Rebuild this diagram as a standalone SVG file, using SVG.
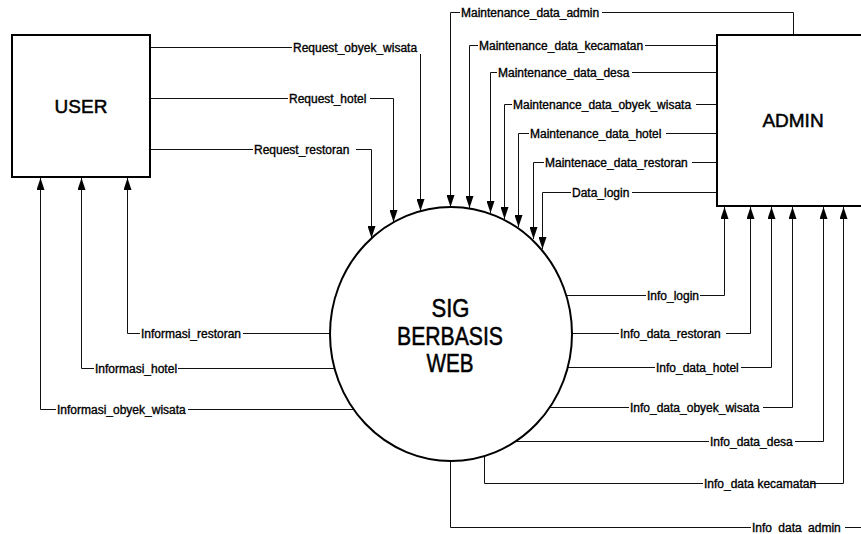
<svg xmlns="http://www.w3.org/2000/svg" width="861" height="534" viewBox="0 0 861 534">
<style>
.box{fill:#fff;stroke:#000;stroke-width:2}
.ln{fill:none;stroke:#111;stroke-width:1}
.lbl{font-family:"Liberation Sans",Arial,sans-serif;font-size:12px;fill:#000;stroke:#000;stroke-width:0.35}
.bg{fill:#fff}
.big{font-family:"Liberation Sans",Arial,sans-serif;fill:#000;stroke:#000;stroke-width:0.5;text-anchor:middle}
</style>
<defs>
<marker id="arr" markerWidth="12" markerHeight="8" refX="12" refY="4" orient="auto" markerUnits="userSpaceOnUse"><path d="M0,0 L12,4 L0,8 Z" fill="#000"/></marker>
</defs>
<rect width="861" height="534" fill="#fff"/>

<g id="connectors">
<!-- USER to system -->
<path class="ln" d="M150,47.5 H420.5 V211" marker-end="url(#arr)"/>
<path class="ln" d="M150,98.5 H393.5 V222" marker-end="url(#arr)"/>
<path class="ln" d="M150,149.5 H371.5 V238" marker-end="url(#arr)"/>
<!-- system to USER -->
<path class="ln" d="M330,333.5 H127.5 V178" marker-end="url(#arr)"/>
<path class="ln" d="M334,368.5 H81.5 V178" marker-end="url(#arr)"/>
<path class="ln" d="M353,409.5 H40.5 V178" marker-end="url(#arr)"/>
<!-- ADMIN to system -->
<path class="ln" d="M793.5,35 V12.5 H450.5 V207" marker-end="url(#arr)"/>
<path class="ln" d="M717,45.5 H469.5 V208" marker-end="url(#arr)"/>
<path class="ln" d="M717,72.5 H490.5 V213" marker-end="url(#arr)"/>
<path class="ln" d="M717,104.5 H504.5 V219" marker-end="url(#arr)"/>
<path class="ln" d="M717,133.5 H518.5 V227" marker-end="url(#arr)"/>
<path class="ln" d="M717,162.5 H533.5 V239" marker-end="url(#arr)"/>
<path class="ln" d="M717,192.5 H542.5 V249" marker-end="url(#arr)"/>
<!-- system to ADMIN -->
<path class="ln" d="M566,295.5 H724.5 V207" marker-end="url(#arr)"/>
<path class="ln" d="M572,333.5 H750.5 V207" marker-end="url(#arr)"/>
<path class="ln" d="M568,367.5 H771.5 V207" marker-end="url(#arr)"/>
<path class="ln" d="M550,407.5 H792.5 V207" marker-end="url(#arr)"/>
<path class="ln" d="M516,441.5 H823.5 V207" marker-end="url(#arr)"/>
<path class="ln" d="M484.5,456 V483.5 H843.5 V207" marker-end="url(#arr)"/>
<path class="ln" d="M450.5,461 V527.5 H861"/>

<!-- label backgrounds -->
<rect class="bg" x="292" y="40" width="130" height="14"/>
<rect class="bg" x="288" y="91" width="82" height="14"/>
<rect class="bg" x="253" y="142" width="103" height="14"/>
<rect class="bg" x="140" y="326" width="103" height="14"/>
<rect class="bg" x="94" y="361" width="84" height="14"/>
<rect class="bg" x="56" y="402" width="132" height="14"/>
<rect class="bg" x="460" y="5" width="142" height="14"/>
<rect class="bg" x="478" y="38" width="167" height="14"/>
<rect class="bg" x="497" y="65" width="135" height="14"/>
<rect class="bg" x="512" y="97" width="184" height="14"/>
<rect class="bg" x="529" y="126" width="137" height="14"/>
<rect class="bg" x="544" y="155" width="148" height="14"/>
<rect class="bg" x="571" y="185" width="61" height="14"/>
<rect class="bg" x="646" y="288" width="54" height="14"/>
<rect class="bg" x="619" y="326" width="107" height="14"/>
<rect class="bg" x="655" y="360" width="86" height="14"/>
<rect class="bg" x="629" y="400" width="134" height="14"/>
<rect class="bg" x="709" y="434" width="86" height="14"/>
<rect class="bg" x="703" y="476" width="107" height="14"/>
<rect class="bg" x="751" y="520" width="94" height="14"/>

<!-- labels -->
<text class="lbl" x="293" y="52">Request_obyek_wisata</text>
<text class="lbl" x="289" y="103">Request_hotel</text>
<text class="lbl" x="254" y="154">Request_restoran</text>
<text class="lbl" x="141" y="338">Informasi_restoran</text>
<text class="lbl" x="95" y="373">Informasi_hotel</text>
<text class="lbl" x="57" y="414">Informasi_obyek_wisata</text>
<text class="lbl" x="461" y="17">Maintenance_data_admin</text>
<text class="lbl" x="479" y="50">Maintenance_data_kecamatan</text>
<text class="lbl" x="498" y="77">Maintenance_data_desa</text>
<text class="lbl" x="513" y="109">Maintenance_data_obyek_wisata</text>
<text class="lbl" x="530" y="138">Maintenance_data_hotel</text>
<text class="lbl" x="545" y="167">Maintenace_data_restoran</text>
<text class="lbl" x="572" y="197">Data_login</text>
<text class="lbl" x="647" y="300">Info_login</text>
<text class="lbl" x="620" y="338">Info_data_restoran</text>
<text class="lbl" x="656" y="372">Info_data_hotel</text>
<text class="lbl" x="630" y="412">Info_data_obyek_wisata</text>
<text class="lbl" x="710" y="446">Info_data_desa</text>
<text class="lbl" x="704" y="488">Info_data kecamatan</text>
<text class="lbl" x="752" y="532" word-spacing="3">Info data admin</text>
</g>

<g id="user">
<rect class="box" x="12" y="35" width="138" height="142"/>
<text class="big" x="81" y="113" font-size="19">USER</text>
</g>

<g id="admin">
<rect class="box" x="717" y="35" width="160" height="171"/>
<text class="big" x="793" y="127" font-size="19">ADMIN</text>
</g>

<g id="system">
<ellipse cx="451" cy="334" rx="121" ry="127" fill="none" stroke="#000" stroke-width="2"/>
<text class="big" x="450.5" y="317" font-size="25" textLength="38" lengthAdjust="spacingAndGlyphs">SIG</text>
<text class="big" x="450" y="345" font-size="25" textLength="106" lengthAdjust="spacingAndGlyphs">BERBASIS</text>
<text class="big" x="450" y="372" font-size="25" textLength="47" lengthAdjust="spacingAndGlyphs">WEB</text>
</g>
</svg>
